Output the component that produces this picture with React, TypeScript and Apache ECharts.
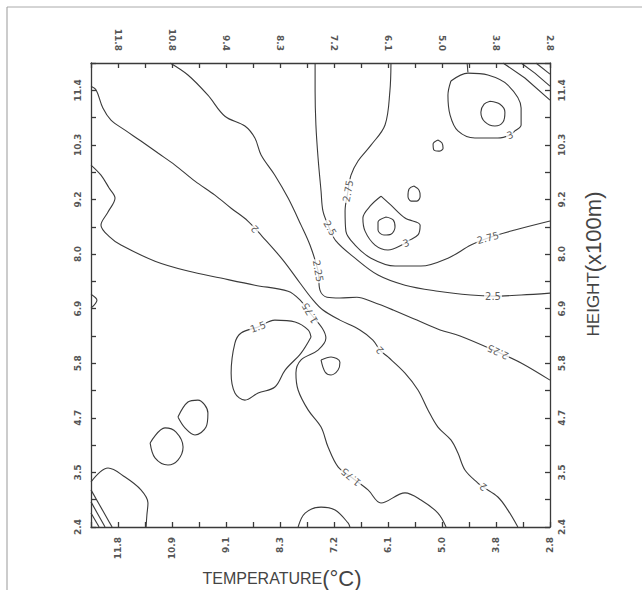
import React, { useEffect, useRef } from 'react';
import * as echarts from 'echarts';

// Tick labels
const tempTicksBottom = ['11.8', '10.9', '9.1', '8.3', '7.2', '6.1', '5.0', '3.8', '2.8'];
const tempTicksTop = ['11.8', '10.8', '9.4', '8.3', '7.2', '6.1', '5.0', '3.8', '2.8'];
const heightTicks = ['2.4', '3.5', '4.7', '5.8', '6.9', '8.0', '9.2', '10.3', '11.4'];

// Contour lines, in grid units (x: 0..17 temperature ticks, y: 0..17 height ticks)
const c2 = [[0, 16.15], [0.19, 16.01], [0.44, 15.35], [0.74, 14.91], [1.26, 14.54], [1.85, 14.14], [2.48, 13.7], [3.11, 13.26], [3.85, 12.67], [4.59, 12.16], [5.19, 11.68], [5.81, 11.21], [6.33, 10.66], [7.11, 9.78], [7.74, 8.94], [8.22, 8.32], [8.59, 7.95], [9.22, 7.58], [9.96, 7.22], [10.44, 6.85], [10.7, 6.48], [11, 6.23], [11.63, 5.64], [12.11, 5.02], [12.48, 4.29], [12.85, 3.66], [13.33, 3.19], [13.59, 2.71], [13.85, 2.09], [14.33, 1.61], [14.52, 1.47], [15.07, 1.1], [15.44, 0.62], [15.81, 0]];
const c225 = [[2.93, 17], [3.59, 16.56], [4.33, 15.82], [4.96, 15.05], [5.7, 14.69], [6.07, 14.25], [6.3, 13.63], [6.81, 12.89], [7.3, 12.05], [7.78, 11.06], [8.11, 10.33], [8.41, 9.38], [8.48, 8.68], [8.74, 8.42], [9.22, 8.39], [9.85, 8.42], [10.44, 8.24], [11.19, 7.95], [12.07, 7.58], [12.93, 7.22], [13.67, 7.0], [15.07, 6.41], [15.93, 6.01], [17, 5.38]];
const c25 = [[8.3, 17], [8.3, 15.97], [8.33, 14.73], [8.41, 13.52], [8.52, 12.31], [8.59, 11.58], [8.78, 11.06], [9.07, 10.48], [9.78, 9.85], [10.63, 9.23], [11.63, 8.86], [12.85, 8.64], [14.07, 8.5], [14.89, 8.46], [15.93, 8.5], [17, 8.57]];
const c275 = [[11.11, 17], [11.07, 15.97], [10.89, 14.73], [10.37, 13.99], [9.89, 13.41], [9.63, 12.89], [9.52, 12.31], [9.41, 11.58], [9.44, 10.84], [9.78, 10.33], [10.37, 9.85], [11.26, 9.56], [12.22, 9.56], [13.22, 9.85], [14.07, 10.33], [14.7, 10.59], [15.7, 10.88], [17, 11.21]];
const c3mid = [[10.74, 12.12], [11.11, 11.79], [11.63, 11.32], [12.19, 11.06], [12.11, 10.7], [11.74, 10.48], [11.59, 10.37], [11, 10.15], [10.52, 10.33], [10.15, 10.84], [10.07, 11.32], [10.37, 11.79], [10.74, 12.12]];
const c3midInner = [[10.93, 11.36], [11.19, 11.25], [11.26, 10.99], [11.11, 10.73], [10.85, 10.7], [10.63, 10.88], [10.63, 11.17], [10.93, 11.36]];
const loopA = [[11.96, 12.49], [12.15, 12.34], [12.19, 12.12], [12.07, 11.94], [11.85, 11.94], [11.74, 12.12], [11.78, 12.38], [11.96, 12.49]];
const loopB = [[12.85, 14.18], [13, 14.07], [13.04, 13.88], [12.89, 13.77], [12.7, 13.81], [12.67, 14.03], [12.85, 14.18]];
const c3top = [[13.33, 16.34], [13.96, 16.63], [14.7, 16.56], [15.44, 16.19], [15.93, 15.35], [15.93, 14.73], [15.7, 14.51], [15.52, 14.36], [15.07, 14.25], [14.22, 14.25], [13.59, 14.51], [13.3, 15.09], [13.22, 15.82], [13.33, 16.34]];
const c3topInner = [[14.78, 15.6], [15.15, 15.49], [15.33, 15.2], [15.26, 14.84], [14.96, 14.69], [14.59, 14.84], [14.44, 15.2], [14.56, 15.49], [14.78, 15.6]];
const cornerT0 = [[13.93, 17], [13.96, 16.66]];
const cornerT1 = [[15.26, 17], [16.07, 16.45], [17, 15.64]];
const cornerT2 = [[15.93, 17], [16.44, 16.63], [17, 16.15]];
const cornerT3 = [[16.48, 17], [17, 16.59]];
const bumpBL = [[0, 1.65], [0.33, 2.01], [0.63, 2.16], [1.26, 1.83], [1.85, 1.36], [2.11, 0.88], [2.07, 0.44], [2.04, 0]];
const hatchB1 = [[0, 1.36], [0.78, 0]];
const hatchB2 = [[0, 0.92], [0.52, 0]];
const hatchB3 = [[0, 0.51], [0.3, 0]];
const sliverL = [[0, 8.53], [0.22, 8.31], [0, 8.02]];
const c175 = [[0, 13.26], [0.37, 12.89], [0.67, 12.42], [0.89, 12.05], [0.63, 11.54], [0.37, 11.06], [0.7, 10.62], [1.11, 10.33], [2.37, 9.74], [3.59, 9.38], [4.81, 9.12], [6.07, 8.86], [7.3, 8.64], [7.74, 8.32], [8.11, 7.84], [8.56, 7.29], [8.7, 6.92], [8.41, 6.48], [7.78, 6.12], [7.59, 5.64], [7.67, 5.02], [8.04, 4.29], [8.52, 3.66], [8.78, 2.93], [9.15, 2.2], [9.63, 1.83], [10.26, 1.36], [10.74, 0.88], [11.63, 1.25], [12.22, 0.99], [12.85, 0.51], [13.15, 0]];
const c15 = [[8.15, 6.96], [7.78, 6.37], [7.19, 5.75], [6.81, 5.13], [6.19, 4.91], [5.7, 4.65], [5.33, 4.91], [5.19, 5.64], [5.33, 6.74], [5.56, 7.11], [6.19, 7.33], [6.81, 7.58], [7.56, 7.51], [8.04, 7.22], [8.15, 6.96]];
const loop1 = [[3.22, 4.03], [3.59, 4.58], [3.96, 4.65], [4.33, 4.18], [4.26, 3.66], [3.85, 3.37], [3.48, 3.63], [3.22, 4.03]];
const loop2 = [[2.19, 3.08], [2.74, 3.63], [3.15, 3.48], [3.41, 2.93], [3.22, 2.45], [2.85, 2.27], [2.37, 2.53], [2.19, 3.08]];
const loopS = [[8.52, 6.12], [8.89, 6.23], [9.22, 6.04], [9.15, 5.75], [8.89, 5.57], [8.67, 5.68], [8.52, 6.12]];
const bumpB = [[7.67, 0], [7.93, 0.51], [8.52, 0.73], [9.04, 0.62], [9.52, 0.15], [9.59, 0]];

// Contour labels: text, x, y, rotation
const contourLabels: [string, number, number, number][] = [
  ['2', 6.07, 10.92, 135],
  ['2', 10.7, 6.48, 135],
  ['2', 14.52, 1.47, 145],
  ['2.25', 8.41, 9.38, -80],
  ['2.5', 8.85, 10.95, -60],
  ['2.75', 9.52, 12.31, 80],
  ['3', 11.67, 10.4, 20],
  ['2.75', 14.7, 10.59, 15],
  ['3', 15.52, 14.36, 20],
  ['2.5', 14.89, 8.46, 0],
  ['2.25', 15.07, 6.41, 155],
  ['1.75', 8.11, 7.84, 120],
  ['1.5', 6.19, 7.33, 20],
  ['1.75', 9.63, 1.83, 140],
];

const smoothLines = [c2, c225, c25, c275, c3mid, c3midInner, loopA, loopB, c3top, c3topInner, bumpBL, sliverL, c175, c15, loop1, loop2, loopS, bumpB];
const straightLines = [cornerT0, cornerT1, cornerT2, cornerT3, hatchB1, hatchB2, hatchB3];

const INK = '#3a3a3a';

export default function App() {
  const ref = useRef<HTMLDivElement>(null);
  useEffect(() => {
    const chart = echarts.init(ref.current!, null, { renderer: 'svg' });
    const axisLineStyle = { color: INK, width: 1.3 };
    const labelBase = { fontSize: 9, color: '#555', fontWeight: 'bold' as const, fontFamily: 'DejaVu Sans', rotate: 90 };
    const xFmt = (arr: string[]) => (v: number) => {
      const i = Math.round(v);
      return i % 2 === 1 ? arr[(i - 1) / 2] : '';
    };
    const yFmt = (v: number) => {
      const i = Math.round(v);
      return i % 2 === 0 ? heightTicks[i / 2] : '';
    };
    const common = {
      type: 'value' as const,
      min: 0,
      max: 17,
      interval: 1,
      axisLine: { show: true, onZero: false, lineStyle: axisLineStyle },
      axisTick: { show: true, inside: true, length: 5, lineStyle: axisLineStyle },
      splitLine: { show: false },
    };
    const series: any[] = [];
    smoothLines.forEach((d) => {
      series.push({
        type: 'line', data: d, smooth: 0.35, showSymbol: false, symbol: 'none',
        lineStyle: { color: INK, width: 1.1 }, silent: true, xAxisIndex: 0, yAxisIndex: 0,
      });
    });
    straightLines.forEach((d) => {
      series.push({
        type: 'line', data: d, smooth: false, showSymbol: false, symbol: 'none',
        lineStyle: { color: INK, width: 1.1 }, silent: true, xAxisIndex: 0, yAxisIndex: 0,
      });
    });
    series.push({
      type: 'scatter',
      symbolSize: 1,
      itemStyle: { color: 'rgba(0,0,0,0)' },
      xAxisIndex: 0,
      yAxisIndex: 0,
      z: 5,
      data: contourLabels.map(([t, x, y, r]) => ({ name: t, value: [x, y], label: { rotate: r } })),
      label: {
        show: true,
        position: 'inside',
        formatter: (p: any) => p.name,
        fontSize: 10,
        fontFamily: 'DejaVu Sans',
        color: '#333',
        backgroundColor: '#fff',
        padding: [0, 1],
      },
    });
    chart.setOption({
      animation: false,
      backgroundColor: '#fff',
      grid: { left: 91, top: 63, right: 92, bottom: 63, containLabel: false },
      xAxis: [
        { ...common, position: 'bottom', axisLabel: { ...labelBase, margin: 10, formatter: xFmt(tempTicksBottom) } },
        { ...common, position: 'top', axisLabel: { ...labelBase, margin: 12, formatter: xFmt(tempTicksTop) } },
      ],
      yAxis: [
        { ...common, position: 'left', axisLabel: { ...labelBase, margin: 9, formatter: yFmt } },
        { ...common, position: 'right', axisLabel: { ...labelBase, margin: 7, formatter: yFmt } },
      ],
      series,
      graphic: [
        { type: 'line', shape: { x1: 7, y1: 7, x2: 642, y2: 7 }, style: { stroke: '#aaa', lineWidth: 1 }, silent: true },
        { type: 'line', shape: { x1: 7, y1: 7, x2: 7, y2: 590 }, style: { stroke: '#999', lineWidth: 1 }, silent: true },
        {
          type: 'text',
          x: 282,
          y: 578,
          style: {
            text: '{a|TEMPERATURE}{b|(°C)}',
            align: 'center',
            verticalAlign: 'middle',
            fill: '#444',
            rich: {
              a: { fontSize: 16, fontFamily: 'Liberation Sans', fill: '#444' },
              b: { fontSize: 22, fontFamily: 'Liberation Sans', fill: '#444' },
            },
          },
          silent: true,
        },
        {
          type: 'text',
          x: 593,
          y: 264,
          rotation: Math.PI / 2,
          style: {
            text: '{a|HEIGHT}{b|(x100m)}',
            align: 'center',
            verticalAlign: 'middle',
            fill: '#444',
            rich: {
              a: { fontSize: 17, fontFamily: 'Liberation Sans', fill: '#444' },
              b: { fontSize: 22, fontFamily: 'Liberation Sans', fill: '#444' },
            },
          },
          silent: true,
        },
      ],
    });
    return () => chart.dispose();
  }, []);
  return <div ref={ref} style={{ position: 'fixed', left: 0, top: 0, width: 642, height: 590, background: '#fff' }} />;
}
